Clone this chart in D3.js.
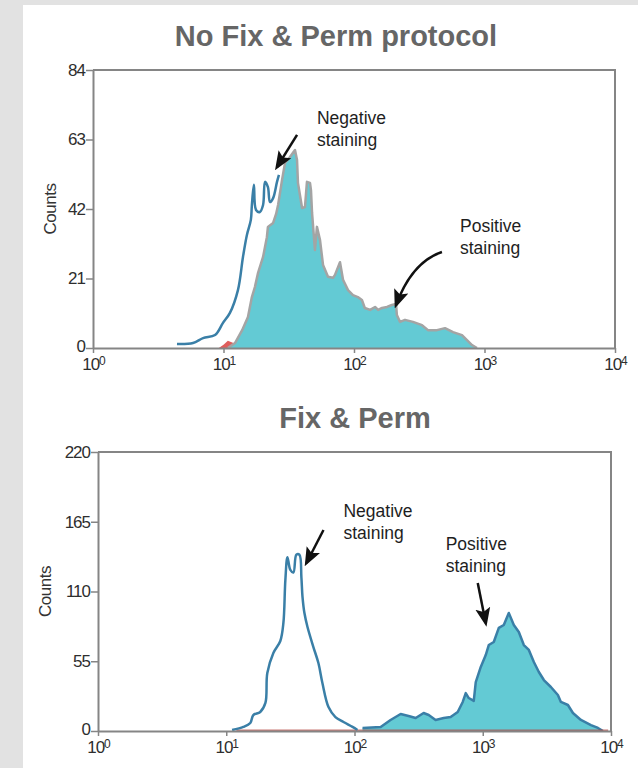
<!DOCTYPE html>
<html>
<head>
<meta charset="utf-8">
<script src="https://cdn.jsdelivr.net/npm/d3@7"></script>
<style>
  html, body { margin: 0; padding: 0; background: #e2e2e2; }
  svg { display: block; font-family: "Liberation Sans", Arial, sans-serif; }
</style>
</head>
<body>
<svg id="chart" width="638" height="768"></svg>
<script>
// Flow cytometry histograms, values as [intensity, counts]
const decadeTicks = [1, 10, 100, 1000, 10000]
const topCountTicks = [0, 21, 42, 63, 84]
const bottomCountTicks = [0, 55, 110, 165, 220]

// No Fix & Perm: negative control (blue line)
const topNegative = [
  [4.40, 1.2], [5.84, 1.5], [6.97, 3.0], [8.61, 3.9], [9.91, 7.6], [11.2, 10.6],
  [12.9, 17.5], [14.1, 27.5], [15.1, 34.1], [16.2, 38.7], [16.5, 43.2], [17.1, 49.3],
  [17.75, 41.7], [19.0, 41.1], [20.1, 43.2], [20.8, 50.2], [21.9, 48.6], [22.7, 44.1],
  [24.0, 45.3], [25.7, 50.2], [26.6, 52.3]
]

// No Fix & Perm: stained sample (teal area)
const topPositive = [
  [10.8, 0], [12.25, 1.5], [13.9, 5.4], [15.4, 9.4], [16.5, 15.4], [17.4, 18.4],
  [18.4, 22.7], [20.1, 27.5], [21.5, 33.5], [21.9, 36.6], [24.0, 37.8], [25.3, 40.5],
  [26.2, 43.2], [28.1, 50.8], [29.6, 55.9], [32.3, 57.7], [35.3, 59.8], [36.6, 56.8],
  [37.2, 49.9], [40.0, 42.3], [42.1, 42.6], [43.6, 50.2], [46.0, 49.9], [46.8, 47.7],
  [47.7, 40.8], [50.2, 29.6], [52.0, 36.6], [54.9, 32.6], [57.9, 25.1], [63.2, 21.5],
  [69.0, 21.2], [71.5, 22.1], [78.1, 25.9], [82.4, 20.6], [90.0, 17.5], [98.2, 16.0],
  [107, 15.4], [115, 14.5], [121, 12.1], [133, 11.5], [145, 12.4], [153, 11.5],
  [164, 12.1], [179, 12.4], [195, 13.0], [210, 13.3], [213, 10.0], [225, 7.9],
  [246, 8.5], [283, 7.9], [332, 6.9], [369, 5.4], [432, 5.4], [498, 6.0], [574, 4.8],
  [672, 3.9], [734, 2.4], [802, 0.9], [876, 0]
]

// No Fix & Perm: isotype control (red sliver near the baseline)
const topIsotype = [[9.2, 0], [10.0, 1.0], [10.8, 2.2], [11.8, 1.6], [12.6, 0]]

// Fix & Perm: negative control (blue line)
const bottomNegative = [
  [11.1, 0.8], [13.6, 3.2], [15.4, 6.3], [16.25, 12.6], [18.4, 15.0], [20.2, 22.1],
  [20.9, 45.7], [23.3, 61.5], [26.4, 71.0], [27.9, 85.2], [28.9, 119], [30.0, 137],
  [31.6, 127], [33.4, 125], [35.2, 139], [37.2, 139], [38.55, 121], [39.3, 106],
  [40.7, 93], [43.0, 82.0], [47.8, 66.2], [52.3, 53.6], [56.2, 37.8], [62.7, 18.9],
  [71.0, 11.0], [82.1, 7.1], [96.5, 3.2], [105.5, 0.8]
]

// Fix & Perm: stained sample (teal area)
const bottomPositive = [
  [115.5, 2.4], [160, 3.2], [191, 8.7], [229, 13.4], [264, 11.8], [300, 10.2],
  [346, 14.2], [379, 12.6], [429, 8.7], [496, 10.2], [562, 11.0], [638, 15.0],
  [698, 22.9], [737, 29.9], [778, 26.0], [851, 23.7], [882, 38.6], [965, 50.5],
  [1055, 59.9], [1114, 67.8], [1219, 70.2], [1334, 81.3], [1459, 83.6], [1596, 93.1],
  [1747, 83.6], [1911, 78.1], [2091, 67.8], [2288, 63.9], [2503, 54.4], [2738, 46.5],
  [2996, 40.2], [3398, 34.7], [3854, 28.4], [4068, 22.9], [4614, 20.5], [5048, 14.2],
  [5828, 8.7], [6979, 4.7], [7914, 2.4], [8660, 0]
]

// Fix & Perm: isotype control (thin red trace on the baseline)
const bottomIsotype = [[12, 0.6], [9500, 0.6]]

// Annotation labels and arrows, in data coordinates
const topNotes = [
  { lines: ["Negative", "staining"], at: [52, 67.7], tail: [36.6, 64.4], tip: [25.7, 54.7] },
  { lines: ["Positive", "staining"], at: [649, 35.1], tail: [472, 29.0], bend: [278, 26.0], tip: [210, 13.0] }
]
const bottomNotes = [
  { lines: ["Negative", "staining"], at: [82, 168.7], tail: [57.3, 158.5], tip: [42.2, 132.5] },
  { lines: ["Positive", "staining"], at: [514, 142.7], tail: [914, 116.7], tip: [1055, 85.2] }
]

const colors = {
  teal: "#63cad4",
  blue: "#3a7fa7",
  gray: "#a4a4a4",
  red: "#d9413f",
  axis: "#858585",
  tickText: "#2e2e2e",
  title: "#666666"
}

const svg = d3.select("#chart")

svg.append("rect").attr("width", 638).attr("height", 768).attr("fill", "#e2e2e2")
svg.append("rect").attr("x", 23).attr("y", 5).attr("width", 615).attr("height", 763).attr("fill", "#ffffff")

svg.append("defs").append("marker")
  .attr("id", "arrow")
  .attr("viewBox", "0 0 10 10")
  .attr("refX", 8)
  .attr("refY", 5)
  .attr("markerWidth", 7.5)
  .attr("markerHeight", 7.5)
  .attr("markerUnits", "strokeWidth")
  .attr("orient", "auto")
  .append("path")
  .attr("d", "M0,1 L10,5 L0,9 L2,5 Z")
  .attr("fill", "#111")

function drawPanel(opts) {
  const { title, titleX, titleY, countsX, left, right, top, bottom, yMax, yTicks, negative, positive, isotype, outline, notes } = opts

  const x = d3.scaleLog().domain([1, 10000]).range([left, right])
  const y = d3.scaleLinear().domain([0, yMax]).range([bottom, top])

  svg.append("text")
    .attr("x", titleX)
    .attr("y", titleY)
    .attr("text-anchor", "middle")
    .attr("font-size", "29px")
    .attr("font-weight", "bold")
    .attr("fill", colors.title)
    .text(title)

  // Frame: top and right edges
  svg.append("path")
    .attr("d", `M${left},${top}H${right}V${bottom}`)
    .attr("fill", "none")
    .attr("stroke", colors.axis)
    .attr("stroke-width", 2)

  const area = d3.area()
    .x(d => x(d[0]))
    .y0(y(0))
    .y1(d => y(d[1]))

  const line = d3.line()
    .x(d => x(d[0]))
    .y(d => y(d[1]))

  if (isotype.length > 2) {
    svg.append("path")
      .datum(isotype)
      .attr("d", area)
      .attr("fill", colors.red)
      .attr("opacity", 0.85)
  }

  svg.append("path")
    .datum(positive)
    .attr("d", area)
    .attr("fill", colors.teal)

  svg.append("path")
    .datum(positive)
    .attr("d", line)
    .attr("fill", "none")
    .attr("stroke", outline)
    .attr("stroke-width", 2.5)
    .attr("stroke-linejoin", "round")

  if (isotype.length === 2) {
    svg.append("path")
      .datum(isotype)
      .attr("d", line)
      .attr("stroke", "#b5453f")
      .attr("stroke-width", 1.5)
      .attr("opacity", 0.7)
  }

  svg.append("path")
    .datum(negative)
    .attr("d", line.curve(d3.curveCatmullRom.alpha(0.5)))
    .attr("fill", "none")
    .attr("stroke", colors.blue)
    .attr("stroke-width", 2.5)
    .attr("stroke-linejoin", "round")
  line.curve(d3.curveLinear)

  // Axes
  const yAxis = svg.append("g")
    .attr("transform", `translate(${left},0)`)
    .call(d3.axisLeft(y).tickValues(yTicks).tickSize(7).tickSizeOuter(0).tickPadding(1))

  const xAxis = svg.append("g")
    .attr("transform", `translate(0,${bottom})`)
    .call(d3.axisBottom(x).tickValues(decadeTicks).tickSize(5).tickSizeOuter(0).tickPadding(5))

  for (const g of [yAxis, xAxis]) {
    g.select(".domain").attr("stroke", colors.axis).attr("stroke-width", 2)
    g.selectAll(".tick line").attr("stroke", colors.axis).attr("stroke-width", 1.5)
    g.selectAll(".tick text")
      .attr("fill", colors.tickText)
      .attr("font-size", "17px")
      .attr("font-family", "\"Liberation Sans\", Arial, sans-serif")
      .attr("letter-spacing", "-1px")
  }

  // keep the zero label clear of the first decade label
  yAxis.selectAll(".tick text").filter(d => d === 0).attr("dy", "0.2em")

  xAxis.selectAll(".tick text").each(function (d) {
    const t = d3.select(this)
    t.text(null)
    t.append("tspan").text("10")
    t.append("tspan")
      .attr("dy", "-0.4em")
      .attr("font-size", "12px")
      .text(Math.round(Math.log10(d)))
  })

  svg.append("text")
    .attr("transform", `translate(${countsX},${(top + bottom) / 2}) rotate(-90)`)
    .attr("text-anchor", "middle")
    .attr("font-size", "17px")
    .attr("letter-spacing", "-0.5px")
    .attr("fill", "#333")
    .text("Counts")

  // Annotations
  notes.forEach(note => {
    const label = svg.append("text")
      .attr("x", x(note.at[0]))
      .attr("y", y(note.at[1]))
      .attr("font-size", "17.5px")
      .attr("fill", "#1e1e1e")
    note.lines.forEach((s, i) => {
      label.append("tspan")
        .attr("x", x(note.at[0]))
        .attr("dy", i === 0 ? 0 : 22)
        .text(s)
    })

    const [tx, ty] = [x(note.tail[0]), y(note.tail[1])]
    const [px, py] = [x(note.tip[0]), y(note.tip[1])]
    const d = note.bend
      ? `M${tx},${ty}Q${x(note.bend[0])},${y(note.bend[1])} ${px},${py}`
      : `M${tx},${ty}L${px},${py}`
    svg.append("path")
      .attr("d", d)
      .attr("fill", "none")
      .attr("stroke", "#111")
      .attr("stroke-width", 2.5)
      .attr("marker-end", "url(#arrow)")
  })
}

drawPanel({
  title: "No Fix & Perm protocol",
  titleX: 336,
  titleY: 46,
  countsX: 56,
  left: 93, right: 615, top: 70, bottom: 348,
  yMax: 84,
  yTicks: topCountTicks,
  negative: topNegative,
  positive: topPositive,
  isotype: topIsotype,
  outline: colors.gray,
  notes: topNotes
})

drawPanel({
  title: "Fix & Perm",
  titleX: 355,
  titleY: 428,
  countsX: 51,
  left: 98, right: 611, top: 452, bottom: 731,
  yMax: 220,
  yTicks: bottomCountTicks,
  negative: bottomNegative,
  positive: bottomPositive,
  isotype: bottomIsotype,
  outline: colors.blue,
  notes: bottomNotes
})
</script>
</body>
</html>
